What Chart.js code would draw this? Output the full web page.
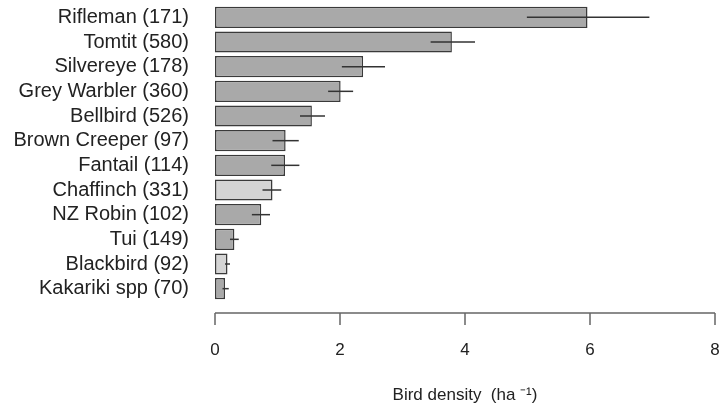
<!DOCTYPE html>
<html>
<head>
<meta charset="utf-8">
<script src="https://cdn.jsdelivr.net/npm/chart.js"></script>
<style>
  html, body { margin: 0; padding: 0; background: #fff; }
  canvas { display: block; }
</style>
</head>
<body>
<canvas id="density_chart" width="722" height="412"></canvas>
<script>
// species and number of detections
var birds = ['Rifleman', 'Tomtit', 'Silvereye', 'Grey Warbler', 'Bellbird', 'Brown Creeper',
             'Fantail', 'Chaffinch', 'NZ Robin', 'Tui', 'Blackbird', 'Kakariki spp'];
var counts = [171, 580, 178, 360, 526, 97, 114, 331, 102, 149, 92, 70];
// density estimates (birds per ha) with lower / upper bounds
var density = [5.96, 3.79, 2.37, 2.01, 1.55, 1.13, 1.12, 0.92, 0.74, 0.31, 0.20, 0.16];
var lower   = [4.99, 3.45, 2.03, 1.81, 1.36, 0.92, 0.90, 0.76, 0.59, 0.24, 0.16, 0.12];
var upper   = [6.95, 4.16, 2.72, 2.21, 1.76, 1.34, 1.35, 1.06, 0.88, 0.38, 0.24, 0.22];
// introduced species get the lighter fill
var introduced = [false, false, false, false, false, false, false, true, false, false, true, false];
var xTicks = [0, 2, 4, 6, 8];

var labels = birds.map(function (b, i) { return b + ' (' + counts[i] + ')'; });
var fills = introduced.map(function (f) { return f ? '#d4d4d4' : '#a9a9a9'; });

var FONT = '"Liberation Sans", Arial, sans-serif';

// horizontal error lines through the middle of each bar
var errorBars = {
   id: 'errorBars',
   afterDatasetsDraw: function (chart) {
      var ctx = chart.ctx;
      var x = chart.scales.x;
      var meta = chart.getDatasetMeta(0);
      ctx.save();
      ctx.strokeStyle = '#333';
      ctx.lineWidth = 1.5;
      meta.data.forEach(function (bar, i) {
         ctx.beginPath();
         ctx.moveTo(x.getPixelForValue(lower[i]), bar.y);
         ctx.lineTo(x.getPixelForValue(upper[i]), bar.y);
         ctx.stroke();
      });
      ctx.restore();
   }
};

// detached bottom axis line with downward ticks
var bottomAxis = {
   id: 'bottomAxis',
   afterDraw: function (chart) {
      var ctx = chart.ctx;
      var x = chart.scales.x;
      var y0 = chart.chartArea.bottom + 12;
      ctx.save();
      ctx.strokeStyle = '#666';
      ctx.lineWidth = 1.5;
      ctx.beginPath();
      ctx.moveTo(x.getPixelForValue(xTicks[0]), y0);
      ctx.lineTo(x.getPixelForValue(xTicks[xTicks.length - 1]), y0);
      xTicks.forEach(function (t) {
         var px = x.getPixelForValue(t);
         ctx.moveTo(px, y0);
         ctx.lineTo(px, y0 + 12);
      });
      ctx.stroke();
      ctx.restore();
   }
};

var ctx = document.getElementById('density_chart').getContext('2d');
var density_chart = new Chart(ctx, {
   type: 'bar',
   data: {
      labels: labels,
      datasets: [
         {
            label: 'Bird density',
            data: density,
            backgroundColor: fills,
            borderColor: '#3a3a3a',
            borderWidth: 1.5,
            borderSkipped: false,
            categoryPercentage: 1.0,
            barPercentage: 0.86
         }
      ]
   },
   options: {
      indexAxis: 'y',
      responsive: false,
      animation: false,
      layout: { padding: { left: 0, top: 5, right: 7, bottom: 0 } },
      plugins: {
         legend: { display: false },
         tooltip: { enabled: false }
      },
      scales: {
         x: {
            min: 0,
            max: 8,
            afterFit: function (scale) {
               scale.height = 111;
               scale.paddingLeft = 0;
               scale.paddingRight = 0;
            },
            afterBuildTicks: function (scale) {
               scale.ticks = xTicks.map(function (v) { return { value: v }; });
            },
            grid: { display: false },
            border: { display: false },
            ticks: {
               padding: 31,
               color: '#222',
               maxRotation: 0,
               autoSkip: false,
               font: { family: FONT, size: 17 }
            },
            title: {
               display: true,
               text: 'Bird density  (ha \u207B\u00B9)',
               color: '#222',
               padding: { top: 0, bottom: 6 },
               font: { family: FONT, size: 17 }
            }
         },
         y: {
            afterFit: function (scale) {
               scale.width = 215;
               scale.paddingTop = 0;
               scale.paddingBottom = 0;
            },
            grid: { display: false },
            border: { display: false },
            ticks: {
               padding: 18,
               color: '#222',
               autoSkip: false,
               font: { family: FONT, size: 20 }
            }
         }
      }
   },
   plugins: [errorBars, bottomAxis]
});
</script>
</body>
</html>
